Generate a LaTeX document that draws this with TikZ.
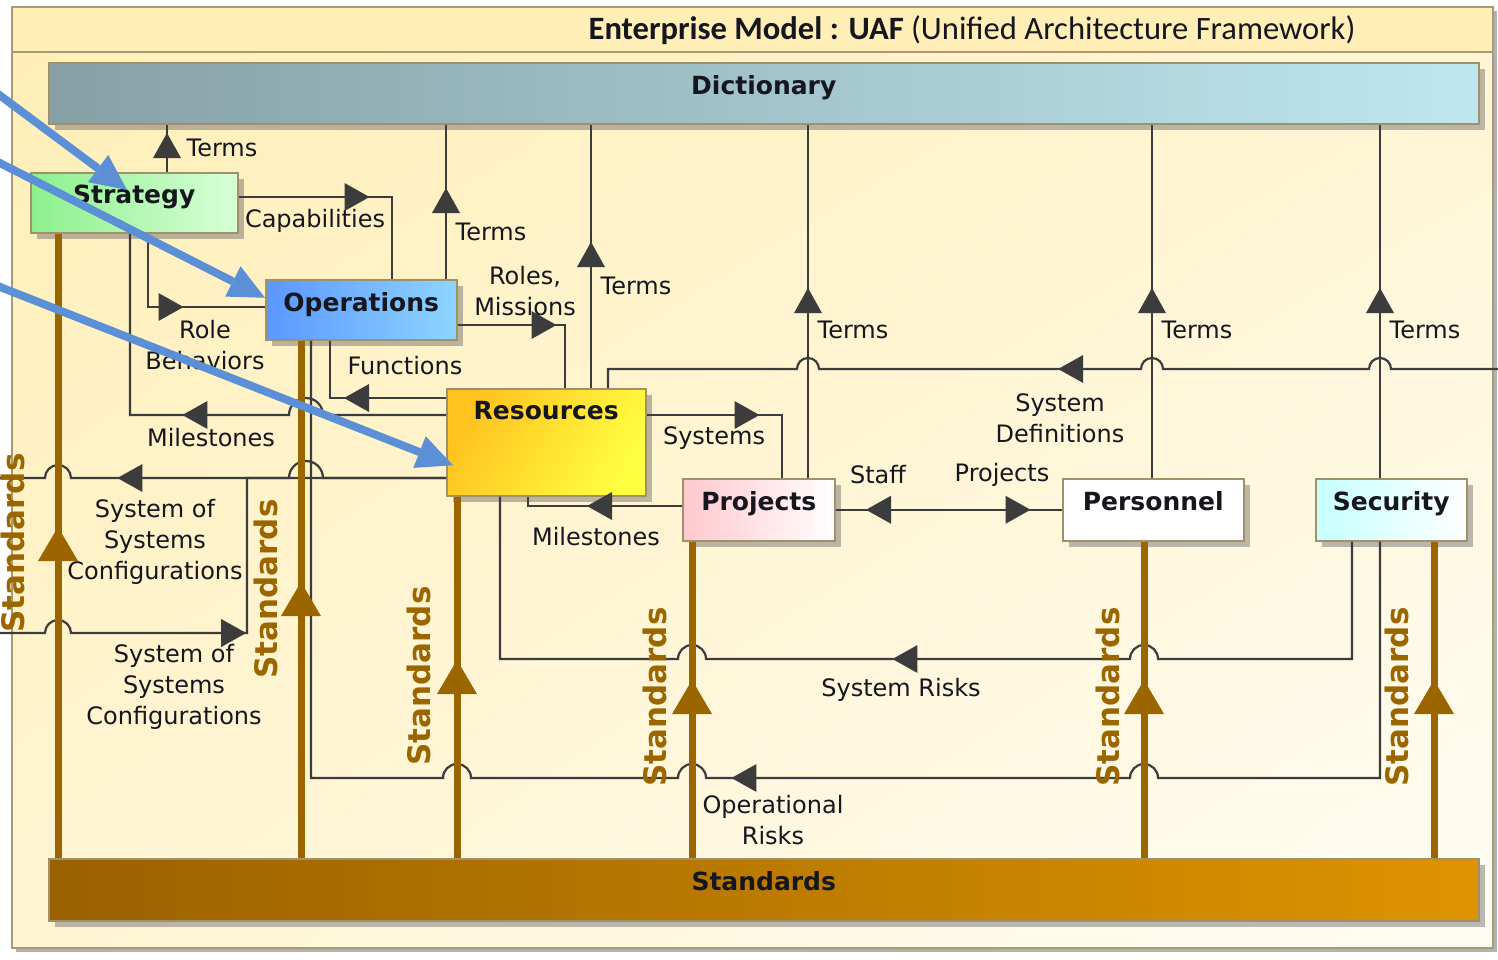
\documentclass[tikz,border=0pt]{standalone}
\usepackage{fontspec}
\setmainfont{DejaVu Sans}
\newfontfamily\capfont{Carlito}
\usetikzlibrary{arrows.meta,decorations.markings,shadows,shadings}

\definecolor{bgtop}{HTML}{FFEEB5}
\definecolor{bgmid}{HTML}{FFF5D4}
\definecolor{bgend}{HTML}{FFFDF3}
\definecolor{frameline}{HTML}{A89A72}
\definecolor{boxline}{HTML}{A0916A}
\definecolor{linkgray}{HTML}{3C3C3C}
\definecolor{stdbrown}{HTML}{9B6500}
\definecolor{noteblue}{HTML}{5B8FD6}
\definecolor{dictL}{HTML}{86A0A6}
\definecolor{dictR}{HTML}{BFE7F0}
\definecolor{stdL}{HTML}{9A6100}
\definecolor{stdR}{HTML}{DD9400}
\definecolor{stratL}{HTML}{8CF08C}
\definecolor{stratR}{HTML}{D8FFD8}
\definecolor{opsL}{HTML}{5B97FF}
\definecolor{opsR}{HTML}{8DD5FF}
\definecolor{resL}{HTML}{FFC21F}
\definecolor{resR}{HTML}{FFFF42}
\definecolor{projL}{HTML}{FFC8CF}
\definecolor{secL}{HTML}{C6FFFF}
\definecolor{txt}{HTML}{16161E}

\newcommand\lblfont{\fontsize{24}{31}\selectfont}
\newcommand\boxfont{\fontsize{25}{30}\selectfont\bfseries}
\newcommand\stdfont{\fontsize{31}{36}\selectfont\bfseries}

\tikzset{
  gtip/.tip={Triangle[length=25pt,width=28pt,line width=0pt]},
  btip/.tip={Triangle[length=34pt,width=40pt,line width=0pt]},
  box/.style={draw=boxline, line width=1.5pt, anchor=north west, inner sep=0pt,
    drop shadow={shadow xshift=6pt, shadow yshift=-6pt, fill=black!60, opacity=.45}},
  ttl/.style={anchor=north, inner sep=0pt, yshift=-13pt, font=\boxfont, text=txt},
  link/.style={draw, color=linkgray, line width=2.2pt},
  stdlink/.style={draw, color=stdbrown, line width=7pt},
  tipat/.style={postaction={decorate, decoration={markings, mark=at position #1 with {\arrow{gtip}}}}},
  btipat/.style={postaction={decorate, decoration={markings, mark=at position #1 with {\arrow{btip}}}}},
  lbl/.style={font=\lblfont, align=center, inner sep=0pt, text=txt},
  stdlbl/.style={font=\stdfont, rotate=90, inner sep=0pt, text=stdbrown},
  note/.style={color=noteblue, line width=8pt, -{Triangle[length=36pt,width=34pt,line width=0pt]}},
}

\begin{document}
\begin{tikzpicture}[x=1pt, y=-1pt]
\useasboundingbox (0,0) rectangle (1498,959);

% frame
\fill[black!30] (16,11) rectangle (1497,952);
\shade[upper left=bgtop, upper right=bgmid, lower left=bgmid, lower right=bgend] (12,7) rectangle (1493,948);
\fill[bgtop] (12,7) rectangle (1493,52);
\draw[frameline, line width=2pt] (12,7) rectangle (1493,948);
\draw[frameline, line width=1.5pt] (12,52) -- (1493,52);
\node[font=\capfont\fontsize{32.6}{36}\selectfont, inner sep=0pt, text=txt] (title) at (972,30)
  {\textbf{Enterprise Model : UAF} (Unified Architecture Framework)};

% layers
\node[box, minimum width=1430pt, minimum height=61pt, left color=dictL, right color=dictR,
  label={[ttl]north:Dictionary}] (dict) at (48,62) {};
\node[box, minimum width=1430pt, minimum height=62pt, left color=stdL, right color=stdR,
  label={[ttl]north:Standards}] (std) at (48,858) {};

% viewpoints
\node[box, minimum width=207pt, minimum height=60pt, left color=stratL, right color=stratR,
  label={[ttl]north:Strategy}] (strat) at (30,172) {};
\node[box, minimum width=191pt, minimum height=60pt, left color=opsL, right color=opsR,
  label={[ttl]north:Operations}] (ops) at (265,279) {};
\node[box, minimum width=199pt, minimum height=107pt, left color=resL, right color=resR,
  shading angle=60, label={[ttl]north:Resources}] (res) at (446,388) {};
\node[box, minimum width=152pt, minimum height=62pt, left color=projL, right color=white,
  label={[ttl]north:Projects}] (proj) at (682,478) {};
\node[box, minimum width=181pt, minimum height=62pt, fill=white,
  label={[ttl]north:Personnel}] (pers) at (1062,478) {};
\node[box, minimum width=151pt, minimum height=62pt, left color=secL, right color=white,
  label={[ttl]north:Security}] (sec) at (1315,478) {};

\coordinate (sysdef) at (1500,369);
\coordinate (sosout) at (-5,478);
\coordinate (sosin) at (-5,633);

% terms
\draw[link, tipat=39pt] (strat.north -| 167,0) -- (dict.south -| 167,0);
\draw[link, tipat=91pt] (ops.north -| 446,0) -- (dict.south -| 446,0);
\draw[link, tipat=146pt] (res.north -| 591,0) -- (dict.south -| 591,0);
\draw[link, tipat=190pt] (proj.north -| 808,0) -- (dict.south -| 808,0);
\draw[link, tipat=190pt] (pers.north -| 1152,0) -- (dict.south -| 1152,0);
\draw[link, tipat=190pt] (sec.north -| 1380,0) -- (dict.south -| 1380,0);

% links between viewpoints
\draw[link, tipat=131pt] (strat.east |- 0,197) -- (392,197) -- (ops.north -| 392,0);
\draw[link, tipat=109pt] (strat.south -| 148,0) -- (148,307) -- (ops.west |- 0,307);
\draw[link, tipat=99pt] (ops.east |- 0,325) -- (565,325) -- (res.north -| 565,0);
\draw[link, tipat=102pt] (res.west |- 0,398) -- (330,398) -- (ops.south -| 330,0);
\draw[link, tipat=283pt] (res.west |- 0,415) -- (323,415)
  arc[start angle=0, end angle=180, radius=17pt] -- (130,415) -- (strat.south -| 130,0);
\draw[link, tipat=113pt] (res.east |- 0,415) -- (782,415) -- (proj.north -| 782,0);
\draw[link, tipat=95pt] (proj.west |- 0,506) -- (528,506) -- (res.south -| 528,0);
\draw[link, tipat=196pt] (pers.west) -- (proj.east);
\draw[link, tipat=195pt] (proj.east) -- (pers.west);
\draw[link, tipat=467pt] (sysdef) -- (1391,369)
  arc[start angle=0, end angle=180, radius=11pt] -- (1163,369)
  arc[start angle=0, end angle=180, radius=11pt] -- (819,369)
  arc[start angle=0, end angle=180, radius=11pt] -- (608,369) -- (res.north -| 608,0);
\draw[link, tipat=348pt] (res.west |- 0,478) -- (323,478)
  arc[start angle=0, end angle=180, radius=17pt] -- (71,478)
  arc[start angle=0, end angle=180, radius=13pt] -- (sosout);
\draw[link, tipat=266pt] (sosin) -- (45,633)
  arc[start angle=180, end angle=0, radius=13pt] -- (247,633) -- (247,478) -- (res.west |- 0,478);
\draw[link, tipat=593pt] (sec.south -| 1352,0) -- (1352,659) -- (1158,659)
  arc[start angle=0, end angle=180, radius=14pt] -- (706,659)
  arc[start angle=0, end angle=180, radius=14pt] -- (500,659) -- (res.south -| 500,0);
\draw[link, tipat=901pt] (sec.south -| 1380,0) -- (1380,778) -- (1158,778)
  arc[start angle=0, end angle=180, radius=14pt] -- (706,778)
  arc[start angle=0, end angle=180, radius=14pt] -- (471,778)
  arc[start angle=0, end angle=180, radius=14pt] -- (311,778) -- (ops.south -| 311,0);

% standards
\draw[stdlink, btipat=331pt] (std.north -| 58,0) -- (strat.south -| 58,0);
\draw[stdlink, btipat=276pt] (std.north -| 301,0) -- (ops.south -| 301,0);
\draw[stdlink, btipat=198pt] (std.north -| 457,0) -- (res.south -| 457,0);
\draw[stdlink, btipat=178pt] (std.north -| 692,0) -- (proj.south -| 692,0);
\draw[stdlink, btipat=178pt] (std.north -| 1144,0) -- (pers.south -| 1144,0);
\draw[stdlink, btipat=178pt] (std.north -| 1434,0) -- (sec.south -| 1434,0);

\node[stdlbl] (sStrat) at (13,543) {Standards};
\node[stdlbl] (sOps) at (266,589) {Standards};
\node[stdlbl] (sRes) at (419,676) {Standards};
\node[stdlbl] (sProj) at (655,697) {Standards};
\node[stdlbl] (sPers) at (1108,697) {Standards};
\node[stdlbl] (sSec) at (1397,697) {Standards};

% labels
\node[lbl] (tStrat) at (222,148) {Terms};
\node[lbl] (tOps) at (491,232) {Terms};
\node[lbl] (tRes) at (636,286) {Terms};
\node[lbl] (tProj) at (853,330) {Terms};
\node[lbl] (tPers) at (1197,330) {Terms};
\node[lbl] (tSec) at (1425,330) {Terms};
\node[lbl] (lCap) at (315,221) {Capabilities};
\node[lbl] (lRoles) at (525,291) {Roles,\\Missions};
\node[lbl] (lRoleB) at (205,345) {Role\\Behaviors};
\node[lbl] (lFunc) at (405,366) {Functions};
\node[lbl] (lMile) at (211,438) {Milestones};
\node[lbl] (lSys) at (714,438) {Systems};
\node[lbl] (lSysDef) at (1060,418) {System\\Definitions};
\node[lbl] (lStaff) at (878,475) {Staff};
\node[lbl] (lProjs) at (1002,475) {Projects};
\node[lbl] (lMileP) at (596,537) {Milestones};
\node[lbl] (lSoSa) at (155,542) {System of\\Systems\\Configurations};
\node[lbl] (lSoSb) at (174,687) {System of\\Systems\\Configurations};
\node[lbl] (lSysRisk) at (901,690) {System Risks};
\node[lbl] (lOpRisk) at (773,820) {Operational\\Risks};

% pointers
\coordinate (n1) at (-10,88);
\coordinate (n2) at (-10,158);
\coordinate (n3) at (-10,283);
\draw[note] (n1) -- ([shift={(97,18)}]strat.north west);
\draw[note] (n2) -- ([yshift=12pt]ops.west);
\draw[note] (n3) -- ([shift={(7,23)}]res.west);
\end{tikzpicture}
\end{document}
